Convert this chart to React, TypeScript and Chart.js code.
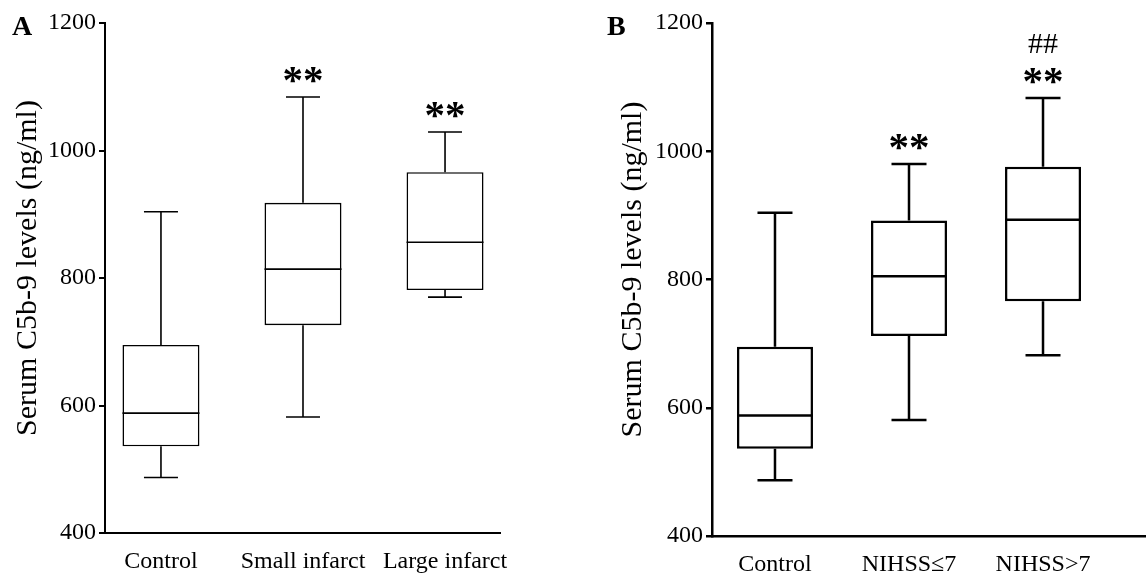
import React, { useEffect, useRef } from 'react';
import { Chart, registerables } from 'chart.js';

Chart.register(...registerables);

// ---------- Data: panel A ----------
const groupsA = ['Control', 'Small infarct', 'Large infarct'];
const minA = [487, 582, 770];
const q1A = [536, 726, 781];
const medA = [588, 814, 856];
const q3A = [695, 918, 966];
const maxA = [904, 1084, 1029];
const starsA = ['', '**', '**'];
const hashesA = ['', '', ''];

// ---------- Data: panel B ----------
const groupsB = ['Control', 'NIHSS≤7', 'NIHSS>7'];
const minB = [487, 581, 682];
const q1B = [536, 712, 766];
const medB = [588, 805, 893];
const q3B = [695, 892, 976];
const maxB = [904, 980, 1083];
const starsB = ['', '**', '**'];
const hashesB = ['', '', '##'];

const yTicks = [400, 600, 800, 1000, 1200];
const yTitle = 'Serum C5b-9 levels (ng/ml)';

const H = 578;
const FONT = '"Liberation Serif", "Times New Roman", serif';

type Spec = {
  letter: string;
  groups: string[];
  mins: number[];
  q1: number[];
  med: number[];
  q3: number[];
  maxs: number[];
  stars: string[];
  hashes: string[];
  width: number;
  left: number;
  axisLeft: number;
  plotRight: number;
  plotTop: number;
  plotBottom: number;
  xMin: number;
  xMax: number;
  barPct: number;
  capW: number;
  lw: number;
  axisLw: number;
  letterX: number;
  titleX: number;
};

const specA: Spec = {
  letter: 'A',
  groups: groupsA, mins: minA, q1: q1A, med: medA, q3: q3A, maxs: maxA,
  stars: starsA, hashes: hashesA,
  width: 573, left: 0,
  axisLeft: 105, plotRight: 500, plotTop: 23, plotBottom: 533,
  xMin: -0.394, xMax: 2.387, barPct: 0.542, capW: 34,
  lw: 1.6, axisLw: 2, letterX: 12, titleX: 28,
};

const specB: Spec = {
  letter: 'B',
  groups: groupsB, mins: minB, q1: q1B, med: medB, q3: q3B, maxs: maxB,
  stars: starsB, hashes: hashesB,
  width: 574, left: 573,
  axisLeft: 139, plotRight: 572, plotTop: 23, plotBottom: 536,
  xMin: -0.47, xMax: 2.761, barPct: 0.567, capW: 35,
  lw: 2.5, axisLw: 2.5, letterX: 34, titleX: 60,
};

function drawCentered(ctx: CanvasRenderingContext2D, text: string, x: number, cy: number) {
  const m = ctx.measureText(text);
  const asc = m.actualBoundingBoxAscent;
  const desc = m.actualBoundingBoxDescent;
  ctx.textAlign = 'center';
  ctx.textBaseline = 'alphabetic';
  ctx.fillText(text, x, cy + (asc - desc) / 2);
}

function makePlugin(p: Spec) {
  return {
    id: 'boxExtras' + p.letter,
    afterDatasetsDraw(chart: any) {
      const { ctx } = chart;
      const xs = chart.scales.x;
      const ys = chart.scales.y;
      const meta = chart.getDatasetMeta(0);
      ctx.save();
      ctx.strokeStyle = '#000';
      ctx.fillStyle = '#000';
      ctx.lineWidth = p.lw;
      ctx.lineCap = 'butt';
      p.groups.forEach((_, i) => {
        const cx = xs.getPixelForValue(i);
        const bw = meta.data[i].width;
        const yMin = ys.getPixelForValue(p.mins[i]);
        const yQ1 = ys.getPixelForValue(p.q1[i]);
        const yMed = ys.getPixelForValue(p.med[i]);
        const yQ3 = ys.getPixelForValue(p.q3[i]);
        const yMax = ys.getPixelForValue(p.maxs[i]);
        const hc = p.capW / 2;
        ctx.beginPath();
        ctx.moveTo(cx, yQ3);
        ctx.lineTo(cx, yMax);
        ctx.moveTo(cx - hc, yMax);
        ctx.lineTo(cx + hc, yMax);
        ctx.moveTo(cx, yQ1);
        ctx.lineTo(cx, yMin);
        ctx.moveTo(cx - hc, yMin);
        ctx.lineTo(cx + hc, yMin);
        ctx.moveTo(cx - bw / 2, yMed);
        ctx.lineTo(cx + bw / 2, yMed);
        ctx.stroke();

        if (p.stars[i]) {
          ctx.font = `bold 41px ${FONT}`;
          drawCentered(ctx, p.stars[i], cx, yMax - 22);
        }
        if (p.hashes[i]) {
          ctx.font = `30px ${FONT}`;
          drawCentered(ctx, p.hashes[i], cx, yMax - 55);
        }
      });
      ctx.restore();
    },
    afterDraw(chart: any) {
      const { ctx, chartArea } = chart;
      ctx.save();
      ctx.fillStyle = '#000';
      // panel letter
      ctx.font = `bold 28px ${FONT}`;
      ctx.textAlign = 'left';
      ctx.textBaseline = 'alphabetic';
      ctx.fillText(p.letter, p.letterX, 35);
      // y-axis title
      ctx.font = `30px ${FONT}`;
      ctx.translate(p.titleX, (chartArea.top + chartArea.bottom) / 2 - 10);
      ctx.rotate(-Math.PI / 2);
      ctx.textAlign = 'center';
      ctx.textBaseline = 'middle';
      ctx.fillText(yTitle, 0, 0);
      ctx.restore();
    },
  };
}

function buildConfig(p: Spec): any {
  const tickFont = { family: FONT, size: 24 };
  return {
    type: 'bar',
    data: {
      datasets: [
        {
          data: p.groups.map((_, i) => ({ x: i, y: [p.q1[i], p.q3[i]] })),
          backgroundColor: '#ffffff',
          borderColor: '#000000',
          borderWidth: p.lw,
          borderSkipped: false,
          barPercentage: p.barPct,
          categoryPercentage: 1,
        },
      ],
    },
    options: {
      animation: false,
      responsive: false,
      maintainAspectRatio: false,
      events: [],
      layout: { padding: { left: 0, right: p.width - p.plotRight, top: p.plotTop, bottom: 0 } },
      plugins: { legend: { display: false }, tooltip: { enabled: false }, title: { display: false } },
      scales: {
        x: {
          type: 'linear',
          min: p.xMin,
          max: p.xMax,
          offset: false,
          afterBuildTicks: (a: any) => {
            a.ticks = p.groups.map((_, i) => ({ value: i }));
          },
          afterFit: (s: any) => {
            s.height = H - p.plotBottom;
          },
          grid: { display: false, drawTicks: false, offset: false },
          border: { display: true, color: '#000', width: p.axisLw },
          ticks: {
            font: tickFont,
            color: '#000',
            padding: 14,
            maxRotation: 0,
            minRotation: 0,
            autoSkip: false,
            callback: (v: any) => p.groups[Math.round(Number(v))] ?? '',
          },
        },
        y: {
          type: 'linear',
          min: 400,
          max: 1200,
          afterBuildTicks: (a: any) => {
            a.ticks = yTicks.map((v) => ({ value: v }));
          },
          afterFit: (s: any) => {
            s.width = p.axisLeft;
          },
          grid: {
            display: true,
            drawOnChartArea: false,
            drawTicks: true,
            tickLength: 6,
            color: '#000',
            lineWidth: p.axisLw,
          },
          border: { display: true, color: '#000', width: p.axisLw },
          ticks: {
            font: tickFont,
            color: '#000',
            padding: 3,
            callback: (v: any) => String(v),
          },
        },
      },
    },
    plugins: [makePlugin(p)],
  };
}

function Panel({ spec }: { spec: Spec }) {
  const ref = useRef<HTMLCanvasElement>(null);
  useEffect(() => {
    const chart = new Chart(ref.current as HTMLCanvasElement, buildConfig(spec));
    return () => chart.destroy();
  }, [spec]);
  return (
    <canvas
      ref={ref}
      width={spec.width}
      height={H}
      style={{ position: 'absolute', left: spec.left, top: 0, width: spec.width, height: H, display: 'block' }}
    />
  );
}

export default function App() {
  return (
    <div style={{ position: 'absolute', left: 0, top: 0, width: 1147, height: H, background: '#fff', overflow: 'hidden' }}>
      <Panel spec={specA} />
      <Panel spec={specB} />
    </div>
  );
}
